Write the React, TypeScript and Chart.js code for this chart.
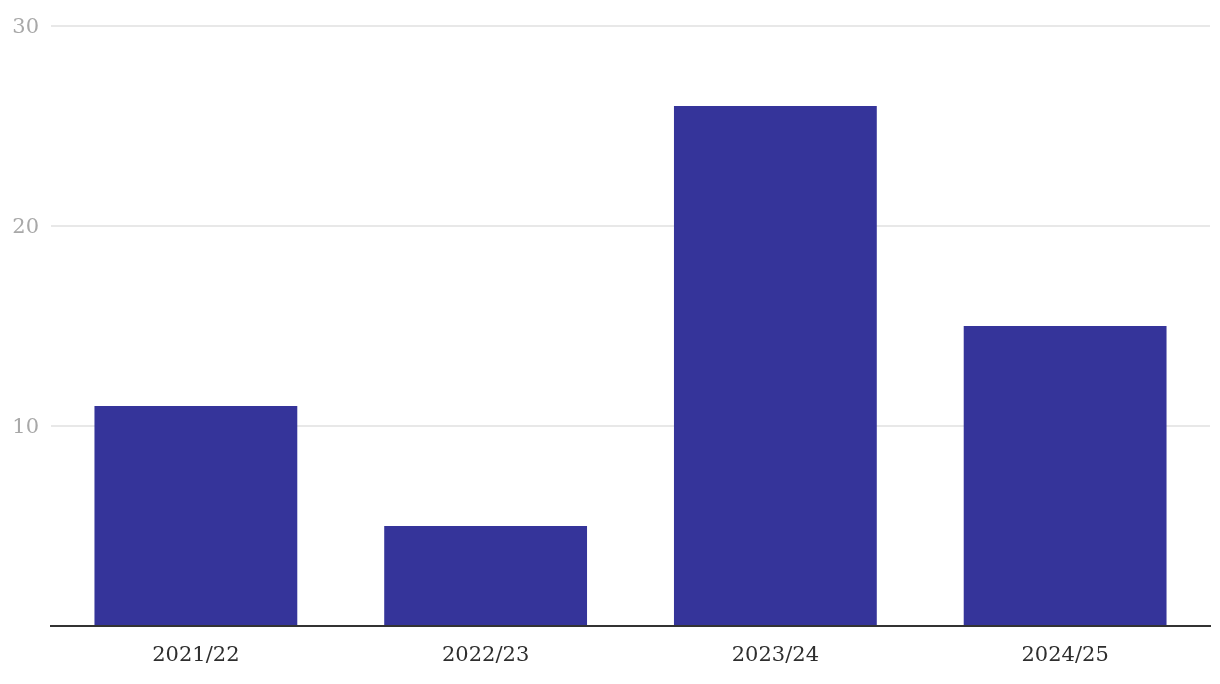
import React, { useEffect, useRef } from "react";
import { Chart, registerables } from "chart.js";

Chart.register(...registerables);

const categories: string[] = ["2021/22", "2022/23", "2023/24", "2024/25"];
const values: number[] = [11, 5, 26, 15];
const yTicks: number[] = [0, 10, 20, 30];

export default function App() {
  const ref = useRef<HTMLCanvasElement | null>(null);

  useEffect(() => {
    document.body.style.margin = "0";
    const canvas = ref.current;
    if (!canvas) return;
    const chart = new Chart(canvas, {
      type: "bar",
      data: {
        labels: categories,
        datasets: [
          {
            data: values,
            backgroundColor: "#35349a",
            categoryPercentage: 1,
            barPercentage: 0.7,
          },
        ],
      },
      options: {
        animation: false,
        responsive: false,
        maintainAspectRatio: false,
        layout: { padding: { top: 26, right: 10, bottom: 0, left: 0 } },
        plugins: { legend: { display: false }, tooltip: { enabled: false } },
        scales: {
          x: {
            grid: { display: false, drawTicks: false },
            border: { display: true, color: "#333333", width: 2 },
            ticks: {
              color: "#2e2e2e",
              font: { family: "DejaVu Serif", size: 21 },
              padding: 17,
            },
            afterFit: (scale: any) => {
              scale.height = 58;
            },
          },
          y: {
            min: 0,
            max: 30,
            afterBuildTicks: (scale: any) => {
              scale.ticks = yTicks.map((v) => ({ value: v }));
            },
            grid: { color: "#e8e8e8", lineWidth: 2, drawTicks: false },
            border: { display: false },
            ticks: {
              color: "#a8a8a8",
              font: { family: "DejaVu Serif", size: 21 },
              padding: 12,
              labelOffset: 2,
              callback: (v: any) => (Number(v) === 0 ? "" : String(v)),
            },
            afterFit: (scale: any) => {
              scale.width = 51;
            },
          },
        },
      },
    });
    return () => chart.destroy();
  }, []);

  return (
    <div style={{ width: 1220, height: 684 }}>
      <canvas ref={ref} width={1220} height={684} style={{ display: "block" }} />
    </div>
  );
}
